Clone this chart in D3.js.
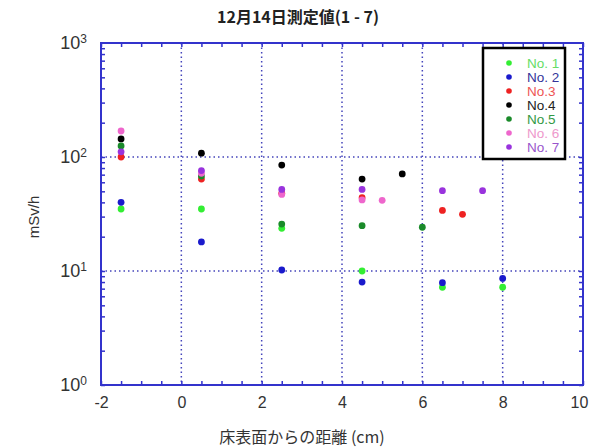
<!DOCTYPE html>
<html lang="ja">
  <head>
    <meta charset="UTF-8" />
    <title>12月14日測定値</title>
    <script src="https://d3js.org/d3.v7.min.js"></script>
    <style>
      body { margin: 0; background: #fff; }
      text { font-family: "Liberation Sans", Arial, sans-serif; }
    </style>
  </head>
  <body>
    <svg width="589" height="447"></svg>
    <script>
      // data: [distance cm, mSv/h]
      const no1 = [[-1.5, 35], [0.5, 35], [2.5, 23.7], [4.5, 10], [6.5, 7.2], [8, 7.2]];
      const no2 = [[-1.5, 40], [0.5, 18], [2.5, 10.2], [4.5, 8], [6.5, 7.9], [8, 8.6]];
      const no3 = [[-1.5, 100], [0.5, 64], [2.5, 48], [4.5, 44], [6.5, 34], [7, 31.4]];
      const no4 = [[-1.5, 144], [0.5, 108], [2.5, 85], [4.5, 64], [5.5, 71]];
      const no5 = [[-1.5, 125], [0.5, 68], [2.5, 25.8], [4.5, 25], [6, 24.2]];
      const no6 = [[-1.5, 169], [0.5, 72], [2.5, 47], [4.5, 42], [5, 41.7]];
      const no7 = [[-1.5, 111], [0.5, 76], [2.5, 52], [4.5, 52], [6.5, 50.7], [7.5, 50.7]];

      const names = ["No. 1", "No. 2", "No.3", "No.4", "No.5", "No. 6", "No. 7"];
      const xTicks = [-2, 0, 2, 4, 6, 8, 10];
      const yTicks = [1, 10, 100, 1000];

      const series = [
        { name: names[0], data: no1, fill: "#33ee33", label: "#66dd66" },
        { name: names[1], data: no2, fill: "#1a1acc", label: "#333399" },
        { name: names[2], data: no3, fill: "#ee2222", label: "#ee5555" },
        { name: names[3], data: no4, fill: "#000000", label: "#222222" },
        { name: names[4], data: no5, fill: "#1a8a2a", label: "#339944" },
        { name: names[5], data: no6, fill: "#ee66cc", label: "#ee99cc" },
        { name: names[6], data: no7, fill: "#9933dd", label: "#9955cc" }
      ];

      const svg = d3.select("svg");
      const margin = { top: 43, right: 6, bottom: 62, left: 101 };
      const width = +svg.attr("width") - margin.left - margin.right;
      const height = +svg.attr("height") - margin.top - margin.bottom;
      const frame = "#3333cc";
      const grid = "#4444bb";

      const x = d3.scaleLinear().domain([-2, 10]).range([0, width]);
      const y = d3.scaleLog().domain([1, 1000]).range([height, 0]);

      const g = svg.append("g")
        .attr("transform", "translate(" + margin.left + "," + margin.top + ")");

      // dotted grid
      g.selectAll(".gx").data(xTicks.slice(1, -1)).join("line")
        .attr("x1", d => x(d)).attr("x2", d => x(d))
        .attr("y1", 0).attr("y2", height)
        .attr("stroke", grid).attr("stroke-width", 1.5)
        .attr("stroke-dasharray", "1.5,3");
      g.selectAll(".gy").data(yTicks.slice(1, -1)).join("line")
        .attr("x1", 0).attr("x2", width)
        .attr("y1", d => y(d)).attr("y2", d => y(d))
        .attr("stroke", grid).attr("stroke-width", 1.5)
        .attr("stroke-dasharray", "1.5,3");

      // minor ticks, pointing inward
      const xMinor = d3.range(-2, 10.01, 0.5);
      const yMinor = [];
      [1, 10, 100].forEach(b => d3.range(1, 10).forEach(m => yMinor.push(b * m)));

      function tickStyle(sel) {
        sel.select(".domain").remove();
        sel.selectAll("line").attr("stroke", frame).attr("stroke-width", 1.5);
        sel.selectAll("text").remove();
      }
      g.append("g").attr("transform", "translate(0," + height + ")")
        .call(d3.axisBottom(x).tickValues(xMinor).tickSize(-4)).call(tickStyle);
      g.append("g")
        .call(d3.axisTop(x).tickValues(xMinor).tickSize(-4)).call(tickStyle);
      g.append("g")
        .call(d3.axisLeft(y).tickValues(yMinor).tickSize(-4)).call(tickStyle);
      g.append("g").attr("transform", "translate(" + width + ",0)")
        .call(d3.axisRight(y).tickValues(yMinor).tickSize(-4)).call(tickStyle);

      // frame
      g.append("rect")
        .attr("width", width).attr("height", height)
        .attr("fill", "none").attr("stroke", frame).attr("stroke-width", 2);

      // x tick labels (plain hyphen minus, last one nudged in so it stays visible)
      const xa = g.append("g").attr("transform", "translate(0," + height + ")")
        .call(d3.axisBottom(x).tickValues(xTicks).tickSize(0).tickPadding(12)
          .tickFormat(d => String(d)));
      xa.select(".domain").remove();
      xa.selectAll("text").attr("fill", "#333").style("font-size", "16px");
      xa.selectAll("text").filter(d => d === 10).attr("dx", -4);

      // y tick labels as powers of ten
      const ya = g.append("g")
        .call(d3.axisLeft(y).tickValues(yTicks).tickSize(0).tickPadding(14).tickFormat(""));
      ya.select(".domain").remove();
      ya.selectAll(".tick text")
        .attr("fill", "#333").style("font-size", "18px")
        .each(function (d) {
          const t = d3.select(this);
          t.append("tspan").text("10");
          t.append("tspan").attr("dy", "-0.55em").style("font-size", "12px")
            .text(Math.round(Math.log10(d)));
        });

      // points
      series.forEach(s => {
        g.append("g").selectAll("circle").data(s.data).join("circle")
          .attr("cx", d => x(d[0]))
          .attr("cy", d => y(d[1]))
          .attr("r", 3.4)
          .attr("fill", s.fill);
      });

      // legend
      const lg = svg.append("g").attr("transform", "translate(483,48)");
      lg.append("rect").attr("width", 82).attr("height", 111)
        .attr("fill", "#fff").attr("stroke", "#000").attr("stroke-width", 2.5);
      series.forEach((s, i) => {
        const row = lg.append("g").attr("transform", "translate(0," + (15 + i * 14) + ")");
        row.append("circle").attr("cx", 26).attr("cy", 0).attr("r", 2.8).attr("fill", s.fill);
        row.append("text").attr("x", 44).attr("y", 5)
          .attr("fill", s.label).style("font-size", "13.5px").text(s.name);
      });

      // titles
      svg.append("text").attr("x", 298).attr("y", 23)
        .attr("text-anchor", "middle").attr("fill", "#222")
        .style("font-size", "16px").style("font-weight", "bold")
        .style("font-family", "'Noto Sans CJK JP', sans-serif")
        .text("12月14日測定値(1 - 7)");
      svg.append("text").attr("x", 302).attr("y", 443)
        .attr("text-anchor", "middle").attr("fill", "#333")
        .style("font-size", "16px")
        .style("font-family", "'Noto Sans CJK JP', sans-serif")
        .text("床表面からの距離 (cm)");
      svg.append("text")
        .attr("transform", "translate(39,217) rotate(-90)")
        .attr("text-anchor", "middle").attr("fill", "#333")
        .style("font-size", "15px").text("mSv/h");
    </script>
  </body>
</html>
